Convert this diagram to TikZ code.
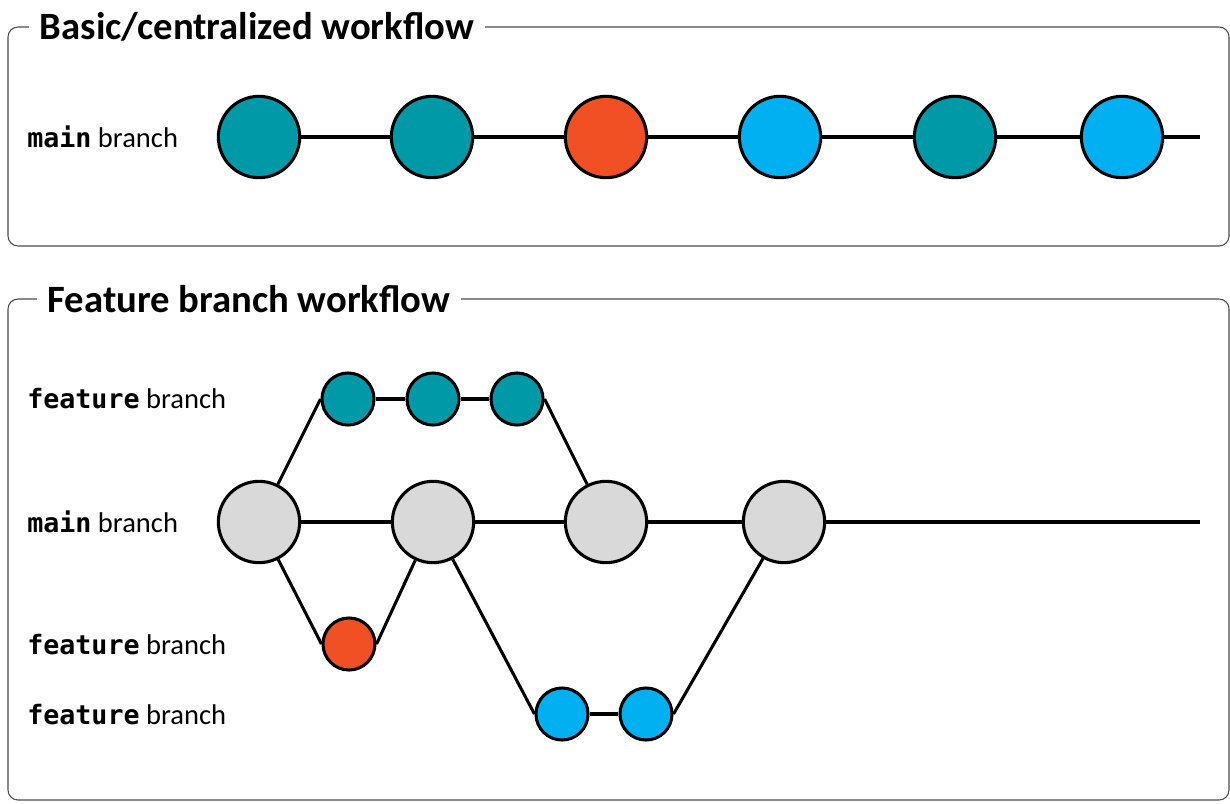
\documentclass[tikz,border=0pt]{standalone}
\usepackage{fontspec}
\setmainfont{Carlito}
\setmonofont{DejaVu Sans Mono}

\definecolor{cteal}{RGB}{0,153,168}
\definecolor{corange}{RGB}{240,80,35}
\definecolor{cblue}{RGB}{0,176,240}
\definecolor{cgrey}{RGB}{217,217,217}

\tikzset{
  frame/.style={draw=black!70, line width=0.8pt, rounded corners=7.5pt},
  title/.style={fill=white, inner xsep=8pt, font=\bfseries\fontsize{29}{33}\selectfont},
  branchlabel/.style={anchor=west, inner sep=0pt, font=\fontsize{21.4}{26}\selectfont},
  commit/.style={circle, draw, line width=2.3pt, minimum size=61pt, inner sep=0pt},
  smallcommit/.style={commit, minimum size=39pt},
  link/.style={line width=2.3pt}
}

\newcommand{\branchname}[2]{{\fontsize{20}{26}\selectfont\ttfamily\bfseries #1} #2}

\begin{document}
\begin{tikzpicture}[x=0.75pt, y=-0.75pt]

\path [use as bounding box] (0,0) rectangle (1230,803);

% FRAMES
\draw [frame] (8,27) rectangle (1229,246);
\draw [frame] (8,299) rectangle (1229,800);
\node [title] (basic) at (257,27) {Basic/centralized workflow};
\node [title] (featwf) at (249,299) {Feature branch workflow};

% LABELS
\node [branchlabel] (lbasic) at (27,137) {\branchname{main}{branch}};
\node [branchlabel] (lfeatA) at (27,399) {\branchname{feature}{branch}};
\node [branchlabel] (lmain) at (27,522) {\branchname{main}{branch}};
\node [branchlabel] (lfeatB) at (27,645) {\branchname{feature}{branch}};
\node [branchlabel] (lfeatC) at (27,715) {\branchname{feature}{branch}};

% BASIC COMMITS
\foreach \x/\c [count=\i] in {259/cteal, 432/cteal, 606/corange, 780/cblue, 955/cteal, 1122/cblue}
	\node [commit, fill=\c] (c\i) at (\x,137) {};
\coordinate (cend) at (1200,137);
\foreach \i/\j in {1/2, 2/3, 3/4, 4/5, 5/6}
	\draw [link] (c\i) -- (c\j);
\draw [link] (c6) -- (cend);

% FEATURE COMMITS
\foreach \x [count=\i] in {259, 433, 606, 784}
	\node [commit, fill=cgrey] (m\i) at (\x,522) {};
\coordinate (mend) at (1200,522);
\foreach \x [count=\i] in {348, 433, 517}
	\node [smallcommit, fill=cteal] (a\i) at (\x,399) {};
\node [smallcommit, fill=corange] (b1) at (349,644) {};
\node [smallcommit, fill=cblue] (d1) at (562,714) {};
\node [smallcommit, fill=cblue] (d2) at (646,714) {};

% BRANCHES
\draw [link] (m1) -- (m2);
\draw [link] (m2) -- (m3);
\draw [link] (m3) -- (m4);
\draw [link] (m4) -- (mend);
\draw [link] (m1) -- (a1.west);
\draw [link] (a1) -- (a2);
\draw [link] (a2) -- (a3);
\draw [link] (a3.east) -- (m3);
\draw [link] (m1) -- (b1.west);
\draw [link] (b1.east) -- (m2);
\draw [link] (m2) -- (d1.west);
\draw [link] (d1) -- (d2);
\draw [link] (d2.east) -- (m4);

\end{tikzpicture}
\end{document}
